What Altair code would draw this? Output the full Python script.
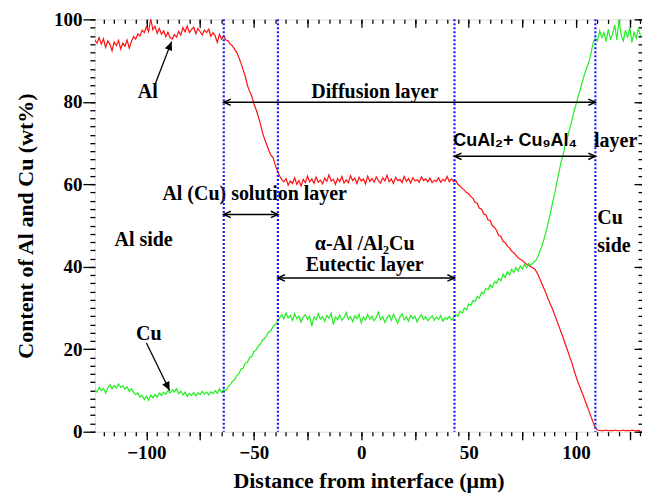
import altair as alt
import pandas as pd

# ---------------- data ----------------
x_um = list(range(-124, 131))

al_wt = [
    95.0, 94.2, 95.6, 94.0, 95.3, 93.2, 94.8, 94.0, 92.4, 94.5,
    93.6, 94.9, 92.8, 94.2, 93.5, 95.0, 93.0, 94.6, 95.8, 95.2,
    96.5, 96.0, 97.4, 96.8, 98.2, 97.0, 100.2, 97.5, 98.3, 96.6,
    97.8, 96.4, 97.2, 95.8, 96.9, 95.6, 95.2, 96.3, 95.7, 97.1,
    96.2, 98.0, 97.0, 98.4, 96.8, 97.6, 98.1, 96.5, 97.8, 97.0,
    96.2, 97.4, 96.8, 97.6, 95.9, 96.8, 96.0, 94.4, 96.4, 95.2,
    96.0, 95.0, 94.8, 94.0, 93.6, 92.8, 92.0, 90.8, 89.4, 87.8,
    86.2, 84.0, 82.6, 81.4, 79.6, 78.2, 76.6, 74.8, 72.6, 71.0,
    69.6, 68.2, 67.0, 66.4, 64.6, 63.2, 62.0, 61.2, 60.6, 61.4,
    59.8, 60.8, 60.2, 61.6, 60.0, 60.9, 59.6, 61.2, 60.4, 62.0,
    60.6, 61.3, 60.2, 61.8, 60.5, 61.0, 60.1, 61.5, 60.7, 62.3,
    60.8, 61.2, 60.0, 61.4, 60.6, 61.9, 60.3, 61.1, 60.4, 62.1,
    60.9, 61.5, 60.2, 61.7, 60.8, 61.3, 60.1, 62.0, 60.7, 61.4,
    60.5, 61.8, 60.9, 60.3, 61.6, 60.8, 62.2, 60.6, 61.3, 60.2,
    61.7, 60.9, 61.2, 60.4, 61.9, 60.7, 61.4, 60.3, 61.6, 60.8,
    61.1, 60.5, 61.8, 60.9, 61.3, 60.6, 61.5, 60.4, 61.0, 60.7,
    61.6, 60.5, 61.2, 60.8, 61.9, 60.6, 61.3, 60.7, 60.9, 60.0,
    59.6, 59.0, 58.6, 58.0, 57.7, 57.0, 56.6, 55.6, 55.4, 54.2,
    54.0, 52.8, 52.6, 51.4, 51.2, 50.0, 49.6, 48.8, 47.6, 47.4,
    46.2, 45.9, 45.0, 44.6, 43.8, 43.4, 42.8, 42.2, 41.8, 41.5,
    41.0, 40.6, 40.3, 40.0, 39.7, 39.3, 38.4, 37.2, 36.0, 34.8,
    33.6, 32.2, 31.0, 29.8, 28.4, 27.0, 25.6, 24.2, 22.8, 21.2,
    19.8, 18.2, 16.8, 15.0, 13.4, 11.8, 10.6, 9.2, 7.8, 6.4,
    5.0, 3.6, 2.2, 1.0, 0.4, 0.3, 0.2, 0.3, 0.4, 0.2,
    0.3, 0.2, 0.4, 0.3, 0.2, 0.3, 0.4, 0.2, 0.3, 0.2,
    0.4, 0.3, 0.2, 0.3, 0.2,
]

cu_wt = [
    10.2, 9.6, 10.8, 10.0, 10.5, 9.4, 10.6, 11.4, 10.4, 11.2,
    10.6, 11.6, 10.8, 11.1, 10.3, 10.9, 9.8, 10.4, 9.6, 9.0,
    9.4, 8.4, 8.8, 7.8, 8.6, 7.6, 8.9, 8.2, 9.0, 8.4,
    9.4, 8.8, 9.6, 9.1, 10.0, 9.4, 10.2, 9.6, 10.4, 9.2,
    9.8, 8.9, 9.6, 8.6, 9.3, 8.8, 9.5, 8.7, 9.4, 9.0,
    9.8, 9.1, 9.6, 8.9, 9.7, 9.2, 10.0, 9.3, 10.4, 9.5,
    10.2, 10.0, 10.9, 11.4, 12.2, 12.6, 13.6, 14.0, 15.2, 15.4,
    16.6, 16.8, 18.0, 18.2, 19.4, 19.8, 20.8, 21.2, 22.2, 22.6,
    23.4, 24.2, 24.6, 25.6, 26.0, 26.8, 27.6, 28.4, 27.4, 28.8,
    27.6, 28.2, 27.0, 28.6, 27.4, 28.0, 26.6, 27.8, 28.4, 27.2,
    28.0, 25.6, 27.9, 27.1, 28.6, 27.3, 27.9, 26.8, 28.2, 27.5,
    28.7, 26.0, 27.8, 27.2, 28.3, 27.0, 27.7, 28.9, 27.2, 27.9,
    26.7, 28.1, 27.4, 28.5, 26.4, 27.8, 27.1, 28.4, 27.3, 28.0,
    26.9, 27.7, 29.0, 27.2, 27.9, 26.5, 27.6, 28.3, 27.0, 28.5,
    27.4, 26.3, 27.8, 28.6, 27.1, 27.9, 26.8, 28.2, 27.4, 28.0,
    26.6, 27.7, 28.4, 27.2, 27.9, 26.9, 27.5, 28.1, 27.0, 27.8,
    27.2, 28.2, 26.8, 27.6, 27.3, 28.0, 27.1, 27.6, 28.4, 28.0,
    29.2, 28.8, 30.0, 29.6, 31.0, 30.6, 31.8, 31.6, 32.8, 32.4,
    33.8, 33.4, 34.8, 34.4, 35.6, 35.0, 36.4, 36.0, 37.2, 36.6,
    38.2, 37.4, 38.8, 38.0, 39.4, 38.6, 39.8, 39.0, 40.2, 39.4,
    40.6, 39.8, 40.8, 40.4, 41.0, 41.4, 42.2, 43.6, 44.8, 46.6,
    48.4, 50.6, 52.8, 55.4, 57.6, 60.4, 62.8, 65.4, 67.2, 69.6,
    71.4, 73.4, 75.4, 77.6, 79.4, 81.4, 83.0, 85.0, 86.8, 88.2,
    89.8, 91.8, 94.4, 95.4, 94.8, 97.2, 95.6, 96.8, 94.6, 97.6,
    95.2, 96.4, 98.6, 95.0, 100.0, 96.2, 94.8, 97.4, 95.6, 98.0,
    94.4, 96.8, 95.4, 97.8, 96.0,
]

# layer boundaries (dotted blue lines)
boundary_x = [-64, -38.8, 43.4, 109]

# double-headed span arrows
span_start = [-64, 43.4, -64, -38.8]
span_end = [109, 109, -38.8, 43.4]
span_level = [79.9, 66.8, 52.7, 37.3]

# serif annotations (centered)
note_text = ["Diffusion layer", "Al (Cu) solution  layer", "α-Al /Al₂Cu",
             "Eutectic layer", "Al side", "Al", "Cu"]
note_x = [6.3, -49.6, 1.6, 1.6, -101.3, -99.4, -98.9]
note_y = [82.5, 57.6, 45.6, 40.4, 46.6, 82.5, 23.6]

# "Cu side" (left aligned)
side_text = ["Cu", "side"]
side_x = [109.9, 109.9]
side_y = [51.8, 45.1]

# CuAl2 + Cu9Al4 layer label
phase_text = ["CuAl₂+ Cu₉Al₄"]
phase_x = [42.8]
phase_y = [70.5]
phase_tail = ["layer"]
phase_tail_x = [128.5]

# pointer arrows for the "Al" and "Cu" labels
ptr_x0 = [-96.0, -100.0]
ptr_y0 = [84.2, 21.5]
ptr_x1 = [-88.3, -89.2]
ptr_y1 = [94.6, 10.0]
ptr_angle = [21, 154]

# ---------------- tables ----------------
curves = pd.DataFrame({"x": x_um, "al": al_wt, "cu": cu_wt})
bounds = pd.DataFrame({"x": boundary_x})
spans = pd.DataFrame({"x0": span_start, "x1": span_end, "y": span_level})
notes = pd.DataFrame({"t": note_text, "x": note_x, "y": note_y})
sides = pd.DataFrame({"t": side_text, "x": side_x, "y": side_y})
phase = pd.DataFrame({"t": phase_text, "x": phase_x, "y": phase_y})
phase2 = pd.DataFrame({"t": phase_tail, "x": phase_tail_x, "y": phase_y})
ptrs = pd.DataFrame({"x0": ptr_x0, "y0": ptr_y0, "x1": ptr_x1, "y1": ptr_y1, "a": ptr_angle})

xs = alt.Scale(domain=[-124, 130.7], nice=False, zero=False)
ys = alt.Scale(domain=[0, 100], nice=False, zero=False)

SERIF = "Liberation Serif"
common = dict(grid=False, domain=False, tickColor="black", tickWidth=1.3)

minor_x = list(range(-120, 131, 5))
major_x = list(range(-100, 126, 25))
minor_y = list(range(0, 101, 2))
major_y = list(range(0, 101, 20))

x_bot_minor = alt.Axis(orient="bottom", values=minor_x, tickSize=4, labels=False, **common)
y_left_minor = alt.Axis(orient="left", values=minor_y, tickSize=5, labels=False, **common)
x_bot_major = alt.Axis(orient="bottom", values=major_x, tickSize=8, labelPadding=4,
                       labelExpr="datum.value % 50 == 0 ? datum.label : ''",
                       labelFont=SERIF, labelFontSize=19, labelFontWeight="bold",
                       labelColor="black", labelFlush=False, labelOverlap=False,
                       title="Distance from interface (μm)", titleFont=SERIF,
                       titleFontSize=22, titleFontWeight="bold", titleColor="black",
                       titlePadding=8, **common)
y_left_major = alt.Axis(orient="left", values=major_y, tickSize=12, labelPadding=1,
                        labelFont=SERIF, labelFontSize=19, labelFontWeight="bold",
                        labelColor="black", labelFlush=False, labelOverlap=False,
                        title="Content of Al and Cu (wt%)", titleFont=SERIF,
                        titleFontSize=22, titleFontWeight="bold", titleColor="black",
                        titlePadding=16, **common)
x_top_minor = alt.Axis(orient="top", values=minor_x, tickSize=4, offset=-4, labels=False, **common)
y_right_minor = alt.Axis(orient="right", values=minor_y, tickSize=4, offset=-4, labels=False, **common)
x_top_major = alt.Axis(orient="top", values=major_x, tickSize=8, offset=-8, labels=False, **common)
y_right_major = alt.Axis(orient="right", values=major_y, tickSize=8, offset=-8, labels=False, **common)

red = alt.Chart(curves).mark_line(color="#ff1010", strokeWidth=1.2, clip=True).encode(
    x=alt.X("x:Q", scale=xs, axis=x_bot_minor, title=None),
    y=alt.Y("al:Q", scale=ys, axis=y_left_minor, title=None),
)
green = alt.Chart(curves).mark_line(color="#22ee22", strokeWidth=1.2, clip=True).encode(
    x=alt.X("x:Q", scale=xs, axis=x_bot_major),
    y=alt.Y("cu:Q", scale=ys, axis=y_left_major),
)
span_lines = alt.Chart(spans).mark_rule(color="black", strokeWidth=1.5).encode(
    x=alt.X("x0:Q", scale=xs, axis=x_top_minor, title=None),
    x2="x1:Q",
    y=alt.Y("y:Q", scale=ys, axis=y_right_minor, title=None),
)
text_kw = dict(font=SERIF, fontWeight="bold", fontSize=20, color="black", baseline="middle")
notes_layer = alt.Chart(notes).mark_text(align="center", **text_kw).encode(
    x=alt.X("x:Q", scale=xs, axis=x_top_major, title=None),
    y=alt.Y("y:Q", scale=ys, axis=y_right_major, title=None),
    text="t:N",
)
sides_layer = alt.Chart(sides).mark_text(align="left", **text_kw).encode(
    x=alt.X("x:Q", scale=xs, axis=None), y=alt.Y("y:Q", scale=ys, axis=None), text="t:N")
phase_layer = alt.Chart(phase).mark_text(align="left", font="Liberation Sans", fontWeight="bold",
                                         fontSize=18, color="black", baseline="middle").encode(
    x=alt.X("x:Q", scale=xs, axis=None), y=alt.Y("y:Q", scale=ys, axis=None), text="t:N")
phase2_layer = alt.Chart(phase2).mark_text(align="right", **text_kw).encode(
    x=alt.X("x:Q", scale=xs, axis=None), y=alt.Y("y:Q", scale=ys, axis=None), text="t:N")

vlines = alt.Chart(bounds).mark_rule(color="#1a1aff", strokeWidth=2.2, strokeDash=[2, 2]).encode(
    x=alt.X("x:Q", scale=xs, axis=None))

left_heads = alt.Chart(spans).mark_point(shape="M1,-0.45L0,0L1,0.45", filled=False, size=200,
                                         color="black", strokeWidth=1.5, opacity=1).encode(
    x=alt.X("x0:Q", scale=xs, axis=None), y=alt.Y("y:Q", scale=ys, axis=None))
right_heads = alt.Chart(spans).mark_point(shape="M-1,-0.45L0,0L-1,0.45", filled=False, size=200,
                                          color="black", strokeWidth=1.5, opacity=1).encode(
    x=alt.X("x1:Q", scale=xs, axis=None), y=alt.Y("y:Q", scale=ys, axis=None))

ptr_lines = alt.Chart(ptrs).mark_rule(color="black", strokeWidth=1.3).encode(
    x=alt.X("x0:Q", scale=xs, axis=None), y=alt.Y("y0:Q", scale=ys, axis=None),
    x2="x1:Q", y2="y1:Q")
ptr_heads = alt.Chart(ptrs).mark_point(shape="M0,0L-0.45,1L0.45,1Z", filled=True, size=300,
                                       color="black", opacity=1).encode(
    x=alt.X("x1:Q", scale=xs, axis=None), y=alt.Y("y1:Q", scale=ys, axis=None),
    angle=alt.Angle("a:Q", scale=None))

chart = alt.layer(
    red, green, span_lines, notes_layer, vlines, sides_layer, phase_layer, phase2_layer,
    left_heads, right_heads, ptr_lines, ptr_heads,
).resolve_axis(x="independent", y="independent").properties(
    width=548, height=413,
    autosize=alt.AutoSizeParams(type="none"),
    padding={"left": 87, "top": 11, "right": 0, "bottom": 62},
).configure_view(stroke="black", strokeWidth=1.5).configure(background="white")

chart.save("out.html", embed_options={"renderer": "svg", "actions": False})
